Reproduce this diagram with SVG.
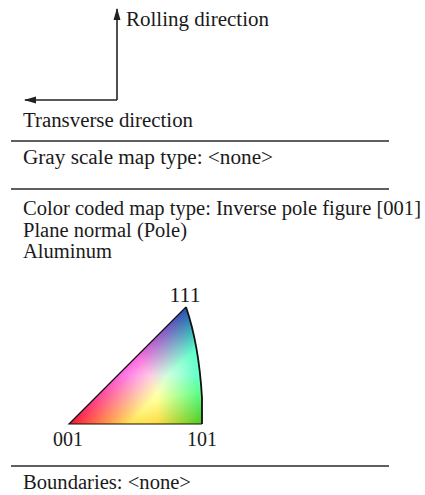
<svg xmlns="http://www.w3.org/2000/svg" width="425" height="495" viewBox="0 0 425 495">
<style>
.sep{stroke:#2a2a2a;stroke-width:1.7;fill:none}
.ax{stroke:#222;stroke-width:1.6;fill:none}
.blend{mix-blend-mode:screen}
</style>
<defs>
<marker id="ah" viewBox="0 0 12 8" refX="11" refY="4" markerWidth="12" markerHeight="8" markerUnits="userSpaceOnUse" orient="auto">
<path d="M0,0.5 L12,4 L0,7.5 Z" fill="#222"/>
</marker>
<linearGradient id="gR" gradientUnits="userSpaceOnUse" x1="69" y1="424" x2="199.6" y2="406.2">
<stop offset="0" stop-color="#ff0000"/><stop offset="0.55" stop-color="#ff0000"/><stop offset="1" stop-color="#000000"/>
</linearGradient>
<linearGradient id="gG" gradientUnits="userSpaceOnUse" x1="202" y1="424" x2="135.5" y2="357.5">
<stop offset="0" stop-color="#00ff00"/><stop offset="0.55" stop-color="#00ff00"/><stop offset="1" stop-color="#000000"/>
</linearGradient>
<linearGradient id="gB" gradientUnits="userSpaceOnUse" x1="186" y1="307" x2="186" y2="424">
<stop offset="0" stop-color="#0000ff"/><stop offset="0.58" stop-color="#0000ff"/><stop offset="1" stop-color="#000000"/>
</linearGradient>
<path id="tri" d="M69,424 L202,424 L202,398 Q199,345 186,307 Z"/>
<filter id="soft" color-interpolation-filters="sRGB">
<feColorMatrix type="matrix" values="0.93 0.3 0.12 0 0  0.08 0.8 0.3 0 0  0.2 0.12 0.68 0 0  0 0 0 1 0"/>
</filter>
</defs>

<g id="connectors">
<path class="ax" d="M117,100 L117,9" marker-end="url(#ah)"/>
<path class="ax" d="M117,100 L25,100" marker-end="url(#ah)"/>
</g>

<g font-family="'Liberation Serif', 'Times New Roman', Times, Tinos, 'Noto Serif', 'DejaVu Serif', serif" font-size="20" fill="#1a1a1a">
<g id="rolling-direction"><text x="126" y="26" textLength="143" lengthAdjust="spacingAndGlyphs">Rolling direction</text></g>
<g id="transverse-direction"><text x="23" y="127" textLength="170" lengthAdjust="spacingAndGlyphs">Transverse direction</text></g>
<g id="gray-scale"><text x="23" y="164" textLength="250" lengthAdjust="spacingAndGlyphs">Gray scale map type: &lt;none&gt;</text></g>
<g id="color-coded">
<text x="23" y="215" textLength="398" lengthAdjust="spacingAndGlyphs">Color coded map type: Inverse pole figure [001]</text>
<text x="23" y="237" textLength="164" lengthAdjust="spacingAndGlyphs">Plane normal (Pole)</text>
<text x="23" y="258" textLength="89" lengthAdjust="spacingAndGlyphs">Aluminum</text>
</g>
<g id="boundaries"><text x="23" y="489" textLength="168" lengthAdjust="spacingAndGlyphs">Boundaries: &lt;none&gt;</text></g>
</g>

<g id="separators">
<line class="sep" x1="11" y1="141" x2="389" y2="141"/>
<line class="sep" x1="11" y1="189" x2="389" y2="189"/>
<line class="sep" x1="11" y1="466" x2="389" y2="466"/>
</g>

<g id="ipf-triangle">
<g filter="url(#soft)">
<g style="isolation:isolate">
<use href="#tri" fill="#000"/>
<use href="#tri" fill="url(#gR)" class="blend"/>
<use href="#tri" fill="url(#gG)" class="blend"/>
<use href="#tri" fill="url(#gB)" class="blend"/>
</g>
</g>
<path d="M202,424 L69,424 L186,307" fill="none" stroke="#111" stroke-width="1.2" stroke-linejoin="miter"/>
<path d="M186,307 Q199,345 202,398 L202,424" fill="none" stroke="#111" stroke-width="1.8"/>
<g font-family="'Liberation Serif', 'Times New Roman', Times, Tinos, 'Noto Serif', 'DejaVu Serif', serif" font-size="20" fill="#1a1a1a">
<text x="185" y="302" text-anchor="middle" textLength="31" lengthAdjust="spacingAndGlyphs">111</text>
<text x="53" y="446" textLength="30" lengthAdjust="spacingAndGlyphs">001</text>
<text x="187" y="446" textLength="30" lengthAdjust="spacingAndGlyphs">101</text>
</g>
</g>
</svg>
